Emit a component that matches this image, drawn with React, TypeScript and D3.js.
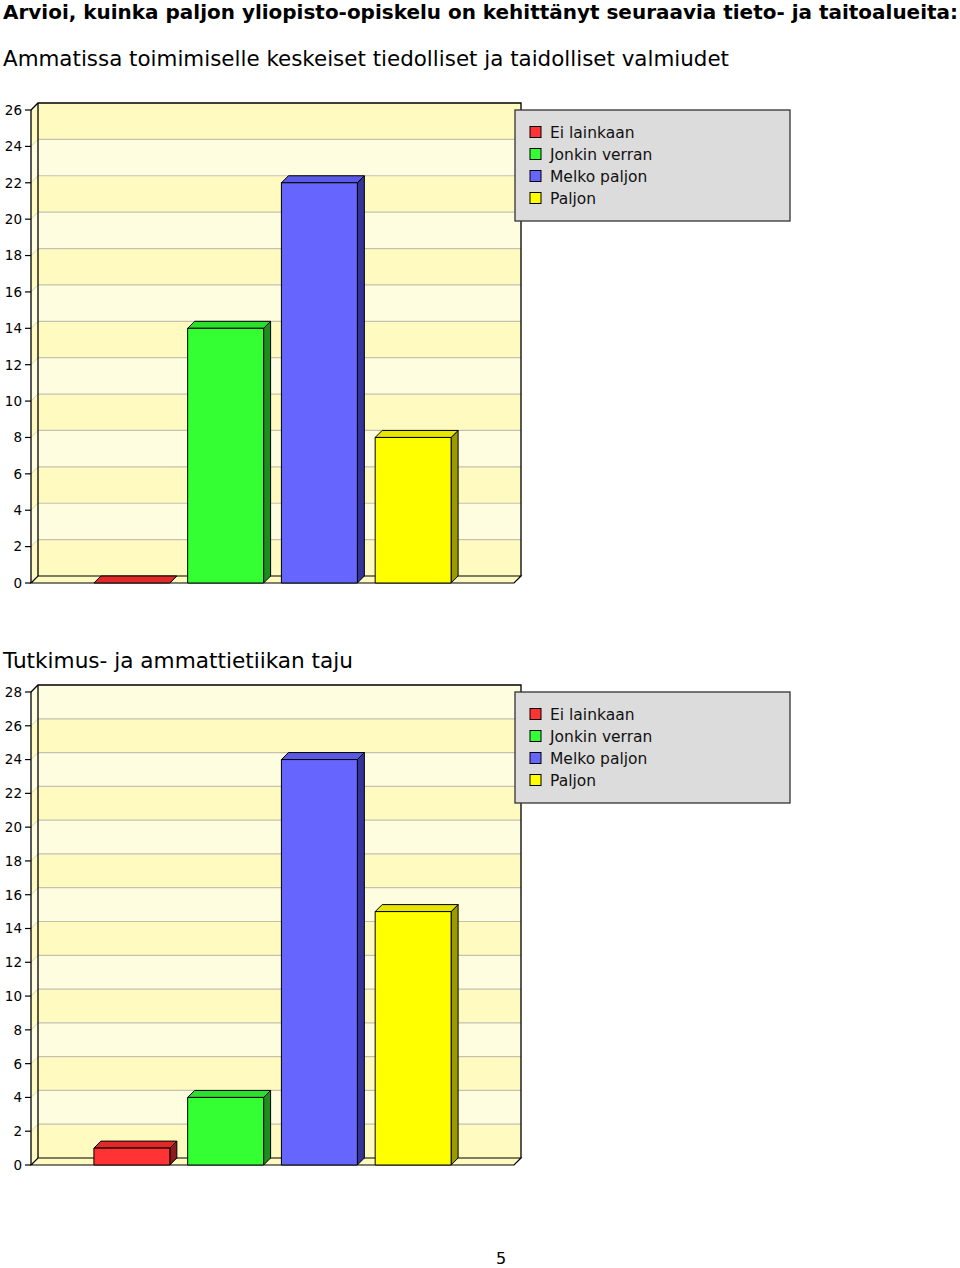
import React from 'react';
import * as d3 from 'd3';

const pageTitle = 'Arvioi, kuinka paljon yliopisto-opiskelu on kehittänyt seuraavia tieto- ja taitoalueita:';
const seriesNames = ['Ei lainkaan', 'Jonkin verran', 'Melko paljon', 'Paljon'];
const seriesColors = ['#ff3333', '#33ff33', '#6666ff', '#ffff00'];
const seriesTop = ['#e02a2a', '#2ee02e', '#5a5ae6', '#e6e600'];
const seriesSide = ['#8c1c1c', '#1f8c1f', '#333399', '#999900'];

const chart1Title = 'Ammatissa toimimiselle keskeiset tiedolliset ja taidolliset valmiudet';
const chart1Values = [0, 14, 22, 8];
const chart1Max = 26;

const chart2Title = 'Tutkimus- ja ammattietiikan taju';
const chart2Values = [1, 4, 24, 15];
const chart2Max = 28;

const FONT = 'DejaVu Sans, Verdana, sans-serif';
const D = 7; // 3D depth

type ChartProps = {
  title: string;
  titleY: number;
  titleLen: number;
  values: number[];
  max: number;
  top: number;
  bottom: number;
};

function Chart({ title, titleY, titleLen, values, max, top, bottom }: ChartProps) {
  const left = 31;
  const right = 514;
  const y = d3.scaleLinear().domain([0, max]).range([bottom, top]);
  const x = d3
    .scaleBand<string>()
    .domain(seriesNames)
    .range([left + 54, right - 54])
    .paddingInner(0.19)
    .paddingOuter(0.095);
  const ticks = d3.range(0, max + 1, 2);
  const bands = d3.range(0, max, 2);
  const w = x.bandwidth();
  return (
    <g>
      <text x={3} y={titleY} fontFamily={FONT} fontSize={21} textLength={titleLen} lengthAdjust="spacingAndGlyphs" fill="#000">
        {title}
      </text>
      {bands.map((b, i) => (
        <g key={'b' + b}>
          <rect
            x={left + D}
            y={y(b + 2) - D}
            width={right - left}
            height={y(b) - y(b + 2)}
            fill={i % 2 === 0 ? '#fffac0' : '#fffde0'}
          />
          <polygon
            points={`${left},${y(b)} ${left + D},${y(b) - D} ${left + D},${y(b + 2) - D} ${left},${y(b + 2)}`}
            fill={i % 2 === 0 ? '#fffac0' : '#fffde0'}
          />
        </g>
      ))}
      {ticks.slice(1, -1).map((t) => (
        <g key={'g' + t}>
          <line x1={left + D} x2={right + D} y1={y(t) - D} y2={y(t) - D} stroke="#c4c2ae" strokeWidth={1.2} />
          <line x1={left} x2={left + D} y1={y(t)} y2={y(t) - D} stroke="#d8d6c0" strokeWidth={1} />
        </g>
      ))}
      <polyline
        points={`${left},${y(max)} ${left + D},${y(max) - D} ${right + D},${y(max) - D} ${right + D},${y(0) - D}`}
        fill="none"
        stroke="#000"
        strokeWidth={1.3}
      />
      <line x1={left + D} x2={left + D} y1={y(max) - D} y2={y(0) - D} stroke="#000" strokeWidth={1.3} />
      <polygon
        points={`${left},${y(0)} ${left + D},${y(0) - D} ${right + D},${y(0) - D} ${right},${y(0)}`}
        fill="#fffac0"
        stroke="#000"
        strokeWidth={1.2}
      />
      <line x1={left} x2={left} y1={y(max)} y2={y(0)} stroke="#000" strokeWidth={1.3} />
      {ticks.map((t) => (
        <g key={'t' + t}>
          <line x1={left - 6} x2={left} y1={y(t)} y2={y(t)} stroke="#000" strokeWidth={1.2} />
          <text x={22} y={y(t)} dy="0.36em" textAnchor="end" fontFamily={FONT} fontSize={13.5} fill="#000">
            {t}
          </text>
        </g>
      ))}
      {values.map((v, i) => {
        const bx = x(seriesNames[i]) as number;
        const yt = y(v);
        const yb = y(0);
        return (
          <g key={'bar' + i} stroke="#000" strokeWidth={1} strokeLinejoin="round">
            <polygon
              points={`${bx + w},${yt} ${bx + w + D},${yt - D} ${bx + w + D},${yb - D} ${bx + w},${yb}`}
              fill={seriesSide[i]}
            />
            <polygon
              points={`${bx},${yt} ${bx + D},${yt - D} ${bx + w + D},${yt - D} ${bx + w},${yt}`}
              fill={seriesTop[i]}
            />
            {v > 0 && <rect x={bx} y={yt} width={w} height={yb - yt} fill={seriesColors[i]} />}
          </g>
        );
      })}
      <rect x={515} y={top} width={275} height={111} fill="#dcdcdc" stroke="#333" strokeWidth={1.3} />
      {seriesNames.map((s, i) => (
        <g key={'l' + i}>
          <rect x={530} y={top + 16.5 + i * 22} width={11} height={11} fill={seriesColors[i]} stroke="#000" strokeWidth={1} />
          <text x={550} y={top + 22 + i * 22} dy="0.36em" fontFamily={FONT} fontSize={15.5} fill="#111">
            {s}
          </text>
        </g>
      ))}
    </g>
  );
}

export default function App() {
  return (
    <svg
      width={960}
      height={1268}
      style={{ position: 'absolute', left: 0, top: 0, background: '#fff' }}
    >
      <rect x={0} y={0} width={960} height={1268} fill="#fff" />
      <text x={3} y={19} fontFamily={FONT} fontWeight="bold" fontSize={19} textLength={955} lengthAdjust="spacingAndGlyphs" fill="#000">
        {pageTitle}
      </text>
      <Chart title={chart1Title} titleY={66} titleLen={726} values={chart1Values} max={chart1Max} top={110} bottom={583} />
      <Chart title={chart2Title} titleY={668} titleLen={350} values={chart2Values} max={chart2Max} top={692} bottom={1165} />
      <text x={501} y={1264} textAnchor="middle" fontFamily={FONT} fontSize={16} fill="#000">
        5
      </text>
    </svg>
  );
}
